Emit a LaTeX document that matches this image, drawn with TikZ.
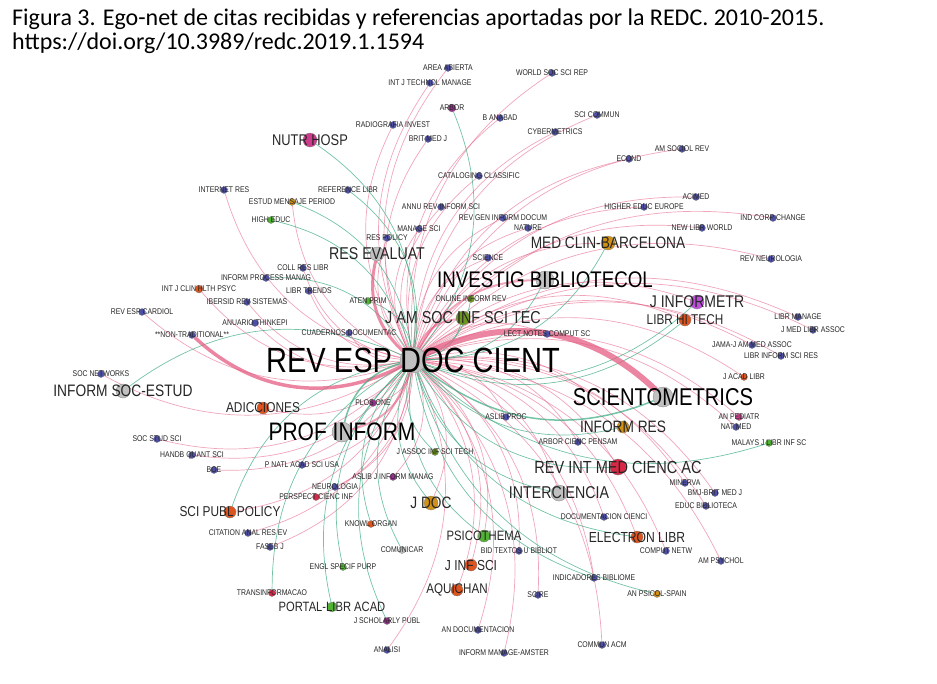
\documentclass[tikz,border=0pt]{standalone}
\usepackage{fontspec}
\newfontfamily\gfont[FakeStretch=0.83]{Liberation Sans}
\newfontfamily\capfont{Carlito}
\usetikzlibrary{backgrounds}
\definecolor{blueN}{RGB}{78,80,168}
\definecolor{grayN}{RGB}{192,192,192}
\definecolor{orangeN}{RGB}{222,84,30}
\definecolor{goldN}{RGB}{210,145,20}
\definecolor{greenN}{RGB}{80,180,50}
\definecolor{oliveN}{RGB}{110,150,30}
\definecolor{magN}{RGB}{205,60,140}
\definecolor{violetN}{RGB}{190,80,220}
\definecolor{crimN}{RGB}{215,40,70}
\definecolor{purpN}{RGB}{150,50,140}
\definecolor{citeC}{RGB}{228,92,130}
\definecolor{refC}{RGB}{55,170,125}
\tikzset{
  dot/.style={circle,draw=black!50,line width=0.3pt,inner sep=0pt,minimum size=7pt,fill=#1},
  dot/.default=blueN,
  tag/.style={font=\gfont\fontsize{#1}{#1}\selectfont,text=black!85,inner sep=0pt},
  tag/.default=8.3,
  cite/.style={draw=citeC,draw opacity=0.55,line width=0.7pt},
  refd/.style={draw=refC,draw opacity=0.7,line width=0.7pt},
}
\begin{document}
\begin{tikzpicture}[x=1pt,y=-1pt,line cap=round]
\useasboundingbox (0,0) rectangle (937,683);
% caption
\node[anchor=base west,inner sep=0pt,font=\capfont\fontsize{24}{26}\selectfont] (cap1) at (12,25) {Figura 3. Ego-net de citas recibidas y referencias aportadas por la REDC. 2010-2015.};
\node[anchor=base west,inner sep=0pt,font=\capfont\fontsize{24}{26}\selectfont] (cap2) at (12,49) {https://doi.org/10.3989/redc.2019.1.1594};

% main journals
\node[dot=grayN,minimum size=26pt,label={[tag=35,text=black]center:REV ESP DOC CIENT}] (rev) at (413,360) {};
\node[dot=grayN,minimum size=18pt,label={[tag=22.6,text=black]center:INVESTIG BIBLIOTECOL}] (invbib) at (545,280) {};
\node[dot=grayN,minimum size=20pt,label={[tag=24.3,text=black]center:SCIENTOMETRICS}] (scient) at (663,397) {};
\node[dot=grayN,minimum size=20pt,label={[tag=25.3,text=black]center:PROF INFORM}] (profinf) at (342,432) {};
\node[dot=grayN,minimum size=14pt,label={[tag=17.1]center:RES EVALUAT}] (reseval) at (377,254) {};
\node[dot=grayN,minimum size=14pt,label={[tag=16.6]center:INFORM SOC-ESTUD}] (infsoc) at (123,391) {};
\node[dot=grayN,minimum size=16pt,label={[tag=17.1]center:INTERCIENCIA}] (interc) at (559,493) {};
\node[dot=magN,minimum size=14pt,label={[tag=15.5]center:NUTR HOSP}] (nutr) at (310,140) {};
\node[dot=goldN,minimum size=14pt,label={[tag=16.5]center:MED CLIN-BARCELONA}] (medclin) at (608,243) {};
\node[dot=oliveN,minimum size=14pt,label={[tag=17.3]center:J AM SOC INF SCI TEC}] (jasis) at (463,318) {};
\node[dot=violetN,minimum size=14pt,label={[tag=16.9]center:J INFORMETR}] (jinfor) at (697,302) {};
\node[dot=orangeN,minimum size=12pt,label={[tag=14.2]center:LIBR HI TECH}] (librhi) at (685,320) {};
\node[dot=goldN,minimum size=12pt,label={[tag=16.5]center:INFORM RES}] (infres) at (623,427) {};
\node[dot=orangeN,minimum size=12pt,label={[tag=14.3]center:ADICCIONES}] (adicc) at (263,408) {};
\node[dot=crimN,minimum size=16pt,label={[tag=17.5]center:REV INT MED CIENC AC}] (revint) at (618,467) {};
\node[dot=orangeN,minimum size=12pt,label={[tag=14.6]center:ELECTRON LIBR}] (elec) at (637,537) {};
\node[dot=orangeN,minimum size=12pt,label={[tag=14.3]center:SCI PUBL POLICY}] (scipubl) at (230,512) {};
\node[dot=goldN,minimum size=14pt,label={[tag=16.5]center:J DOC}] (jdoc) at (431,503) {};
\node[dot=greenN,minimum size=12pt,label={[tag=13.6]center:PSICOTHEMA}] (psico) at (484,536) {};
\node[dot=orangeN,minimum size=12pt,label={[tag=14.5]center:J INF SCI}] (jinfsci) at (471,565) {};
\node[dot=orangeN,minimum size=12pt,label={[tag=14]center:AQUICHAN}] (aquichan) at (457,590) {};
\node[dot=greenN,minimum size=10pt,label={[tag=13.5]center:PORTAL-LIBR ACAD}] (portal) at (332,607) {};

% small journals
\node[dot,label={[tag]center:AREA ABIERTA}] (areaab) at (448,68) {};
\node[dot,label={[tag]center:INT J TECHNOL MANAGE}] (intjtech) at (430,83) {};
\node[dot,label={[tag]center:WORLD SOC SCI REP}] (wsocsci) at (552,73) {};
\node[dot=purpN,minimum size=8pt,label={[tag]center:ARBOR}] (arbor) at (452,108) {};
\node[dot,label={[tag]center:B ANABAD}] (banabad) at (500,118) {};
\node[dot,label={[tag]center:SCI COMMUN}] (scicomm) at (597,115) {};
\node[dot,label={[tag]center:RADIOGRAFIA INVEST}] (radiog) at (393,125) {};
\node[dot,label={[tag]center:BRIT MED J}] (britmed) at (428,139) {};
\node[dot,label={[tag]center:CYBERMETRICS}] (cyber) at (555,132) {};
\node[dot,label={[tag]center:AM SOCIOL REV}] (amsoc) at (682,149) {};
\node[dot,label={[tag]center:ECOND}] (ecnd) at (629,159) {};
\node[dot,label={[tag]center:CATALOGING CLASSIFIC}] (catalog) at (479,176) {};
\node[dot,label={[tag]center:INTERNET RES}] (internet) at (224,190) {};
\node[dot,label={[tag]center:REFERENCE LIBR}] (reflibr) at (348,190) {};
\node[dot,label={[tag]center:ACIMED}] (acimed) at (696,197) {};
\node[dot=goldN,label={[tag]center:ESTUD MENSAJE PERIOD}] (estud) at (292,202) {};
\node[dot,label={[tag]center:ANNU REV INFORM SCI}] (annurev) at (441,207) {};
\node[dot,label={[tag]center:HIGHER EDUC EUROPE}] (higheur) at (644,207) {};
\node[dot,label={[tag]center:REV GEN INFORM DOCUM}] (revgen) at (503,218) {};
\node[dot,label={[tag]center:IND CORP CHANGE}] (indcorp) at (773,218) {};
\node[dot=greenN,label={[tag]center:HIGH EDUC}] (highed) at (271,220) {};
\node[dot,label={[tag]center:NATURE}] (nature) at (528,228) {};
\node[dot,label={[tag]center:MANAGE SCI}] (managesci) at (419,229) {};
\node[dot,label={[tag]center:NEW LIBR WORLD}] (newlibr) at (702,228) {};
\node[dot,label={[tag]center:RES POLICY}] (respol) at (387,238) {};
\node[dot,label={[tag]center:SCIENCE}] (science) at (488,258) {};
\node[dot,label={[tag]center:REV NEUROLOGIA}] (revneuro) at (771,259) {};
\node[dot,label={[tag]center:COLL RES LIBR}] (collres) at (303,268) {};
\node[dot,label={[tag]center:INFORM PROCESS MANAG}] (infproc) at (266,278) {};
\node[dot=orangeN,minimum size=8pt,label={[tag]center:INT J CLIN HLTH PSYC}] (intjclin) at (199,289) {};
\node[dot,label={[tag]center:LIBR TRENDS}] (libtrends) at (309,291) {};
\node[dot=oliveN,label={[tag]center:ONLINE INFORM REV}] (onlinf) at (471,299) {};
\node[dot=greenN,label={[tag]center:ATEN PRIM}] (atenprim) at (368,301) {};
\node[dot,label={[tag]center:IBERSID REV SISTEMAS}] (ibersid) at (247,302) {};
\node[dot,label={[tag]center:REV ESP CARDIOL}] (revcard) at (142,312) {};
\node[dot,label={[tag]center:LIBR MANAGE}] (librman) at (798,317) {};
\node[dot,label={[tag]center:ANUARIO THINKEPI}] (anuario) at (255,323) {};
\node[dot,label={[tag]center:J MED LIBR ASSOC}] (jmedlib) at (813,330) {};
\node[dot,label={[tag]center:CUADERNOS DOCUMENTAC}] (cuadern) at (349,333) {};
\node[dot,label={[tag]center:LECT NOTES COMPUT SC}] (lectnot) at (547,334) {};
\node[dot,label={[tag]center:**NON-TRADITIONAL**}] (nontrad) at (192,335) {};
\node[dot,label={[tag]center:JAMA-J AM MED ASSOC}] (jama) at (752,345) {};
\node[dot,label={[tag]center:LIBR INFORM SCI RES}] (libinfsci) at (781,356) {};
\node[dot,label={[tag]center:SOC NETWORKS}] (socnet) at (101,374) {};
\node[dot=orangeN,label={[tag]center:J ACAD LIBR}] (jacad) at (744,377) {};
\node[dot=purpN,label={[tag]center:PLOS ONE}] (plos) at (373,403) {};
\node[dot=magN,label={[tag]center:AN PEDIATR}] (anped) at (739,417) {};
\node[dot,label={[tag]center:ASLIB PROC}] (aslibp) at (506,417) {};
\node[dot,label={[tag]center:NAT MED}] (natmed) at (736,427) {};
\node[dot,label={[tag]center:SOC STUD SCI}] (socstud) at (157,439) {};
\node[dot,label={[tag]center:ARBOR CIENC PENSAM}] (arborc) at (578,442) {};
\node[dot=greenN,label={[tag]center:MALAYS J LIBR INF SC}] (malays) at (769,443) {};
\node[dot=oliveN,label={[tag]center:J ASSOC INF SCI TECH}] (jassoc) at (435,452) {};
\node[dot,label={[tag]center:HANDB QUANT SCI}] (handb) at (192,455) {};
\node[dot,label={[tag]center:P NATL ACAD SCI USA}] (pnatl) at (302,465) {};
\node[dot,label={[tag]center:BOE}] (boe) at (214,470) {};
\node[dot=purpN,label={[tag]center:ASLIB J INFORM MANAG}] (aslibj) at (393,477) {};
\node[dot,label={[tag]center:MINERVA}] (minerva) at (685,483) {};
\node[dot,label={[tag]center:NEUROLOGIA}] (neurol) at (335,487) {};
\node[dot,label={[tag]center:BMJ-BRIT MED J}] (bmj) at (715,493) {};
\node[dot=crimN,label={[tag]center:PERSPECT CIENC INF}] (perspect) at (316,497) {};
\node[dot,label={[tag]center:EDUC BIBLIOTECA}] (educbib) at (706,506) {};
\node[dot,label={[tag]center:DOCUMENTACION CIENCI}] (documc) at (604,517) {};
\node[dot=orangeN,label={[tag]center:KNOWL ORGAN}] (knowl) at (371,524) {};
\node[dot,label={[tag]center:CITATION ANAL RES EV}] (citation) at (248,533) {};
\node[dot,label={[tag]center:FASEB J}] (faseb) at (270,547) {};
\node[dot=grayN,label={[tag]center:COMUNICAR}] (comun) at (402,550) {};
\node[dot,label={[tag]center:BID TEXTOS U BIBLIOT}] (bidtext) at (519,551) {};
\node[dot,label={[tag]center:COMPUT NETW}] (computn) at (666,551) {};
\node[dot,label={[tag]center:AM PSYCHOL}] (amps) at (721,561) {};
\node[dot=greenN,label={[tag]center:ENGL SPECIF PURP}] (engl) at (343,567) {};
\node[dot,label={[tag]center:INDICADORES BIBLIOME}] (indic) at (594,578) {};
\node[dot=crimN,label={[tag]center:TRANSINFORMACAO}] (transin) at (272,593) {};
\node[dot=goldN,label={[tag]center:AN PSICOL-SPAIN}] (anpsic) at (657,594) {};
\node[dot,label={[tag]center:SCIRE}] (scire) at (538,595) {};
\node[dot=purpN,label={[tag]center:J SCHOLARLY PUBL}] (jschol) at (387,621) {};
\node[dot,label={[tag]center:AN DOCUMENTACION}] (andoc) at (478,630) {};
\node[dot,label={[tag]center:COMMUN ACM}] (commacm) at (602,645) {};
\node[dot,label={[tag]center:ANALISI}] (analisi) at (387,650) {};
\node[dot,label={[tag]center:INFORM MANAGE-AMSTER}] (infman) at (504,653) {};

% links
\begin{pgfonlayer}{background}
\foreach \j in {areaab,intjtech,wsocsci,banabad,scicomm,radiog,britmed,cyber,amsoc,ecnd,catalog,internet,acimed,estud,annurev,higheur,revgen,indcorp,nature,managesci,newlibr,respol,science,revneuro,collres,intjclin,libtrends,ibersid,revcard,librman,anuario,jmedlib,cuadern,lectnot,jama,libinfsci,socnet,jacad,plos,anped,aslibp,natmed,socstud,arborc,handb,pnatl,boe,aslibj,minerva,neurol,bmj,perspect,educbib,documc,citation,faseb,bidtext,computn,amps,indic,scire,andoc,commacm,analisi,infman,medclin,jinfor,librhi,infres,adicc,revint,elec,scipubl,jdoc,psico,jinfsci,aquichan,interc}
  \draw[cite] (rev) to[bend left=30] (\j);
\foreach \j in {nutr,arbor,reflibr,estud,highed,infproc,infsoc,atenprim,invbib,medclin,librhi,jinfor,infres,malays,revint,interc,elec,anpsic,jdoc,psico,portal,engl,jschol,transin,knowl,comun,jassoc,jasis,onlinf,scipubl,indic}
  \draw[refd] (rev) to[bend right=30] (\j);
\draw[cite,line width=6pt,draw opacity=0.75] (rev) to[bend left=35] (scient);
\draw[cite,line width=3.5pt,draw opacity=0.75] (rev) to[bend left=35] (nontrad);
\draw[cite,line width=3pt,draw opacity=0.7] (rev) to[bend left=30] (reseval);
\draw[cite,line width=2pt] (rev) to[bend left=30] (profinf);
\draw[cite,line width=2pt] (rev) to[bend left=30] (invbib);
\draw[cite,line width=1.8pt] (rev) to[bend left=30] (jasis);
\draw[refd,line width=1.5pt] (rev) to[bend right=30] (scient);
\draw[refd,line width=1.5pt] (rev) to[bend right=30] (profinf);
\end{pgfonlayer}
\end{tikzpicture}
\end{document}
